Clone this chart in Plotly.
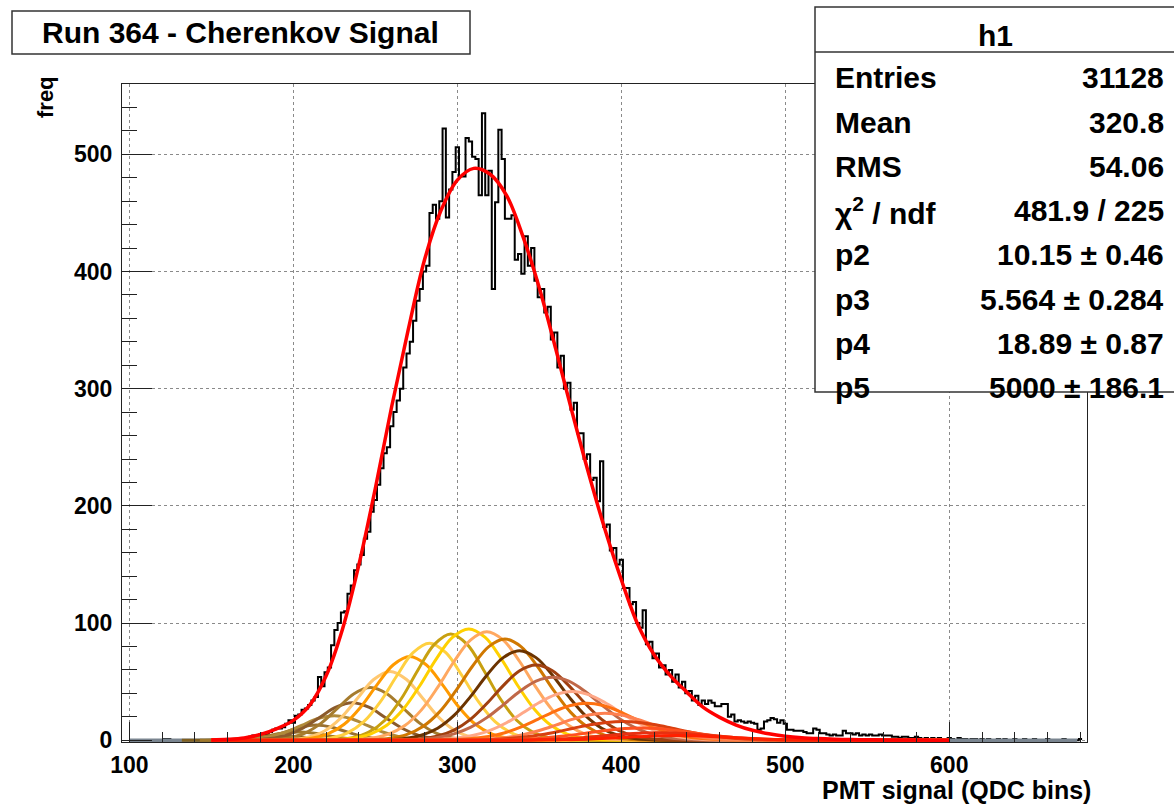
import plotly.graph_objects as go

# ---------------- data ----------------
bin_start = 101
bin_width = 2
hist_counts = [
    0, 0, 0, 0, 0, 0, 0, 0, 0, 0,
    1, 1, 0, 0, 0, 0, 0, 0, 0, 0,
    0, 0, 0, 0, 0, 0, 0, 0, 0, 0,
    0, 1, 0, 1, 0, 2, 3, 4, 4, 5,
    6, 5, 7, 9, 10, 10, 11, 14, 17, 15,
    21, 22, 26, 27, 30, 34, 37, 54, 46, 58,
    62, 81, 94, 100, 109, 110, 125, 132, 145, 150,
    158, 172, 178, 195, 205, 218, 232, 245, 250, 268,
    280, 290, 300, 318, 330, 340, 358, 375, 385, 400,
    405, 450, 457, 445, 460, 522, 446, 470, 485, 506,
    481, 481, 514, 511, 498, 496, 465, 535, 465, 486,
    385, 459, 521, 496, 445, 445, 448, 410, 415, 398,
    430, 405, 420, 392, 378, 385, 365, 370, 342, 348,
    318, 328, 300, 305, 282, 288, 262, 262, 240, 244,
    222, 224, 204, 238, 182, 184, 162, 164, 150, 154,
    130, 130, 116, 118, 100, 96, 111, 82, 84, 70,
    74, 62, 64, 56, 60, 50, 56, 45, 50, 40,
    42, 34, 38, 30, 34, 31, 34, 32, 29, 29,
    31, 31, 20, 22, 16, 17, 16, 15, 16, 15,
    14, 9, 10, 16, 17, 19, 18, 15, 17, 14,
    9, 9, 8, 8, 8, 7, 6, 6, 10, 9,
    6, 6, 5, 4, 5, 4, 4, 8, 6, 6,
    5, 6, 4, 5, 4, 5, 4, 4, 5, 4,
    4, 4, 3, 3, 2, 3, 3, 2, 2, 3,
    2, 1, 2, 1, 2, 1, 2, 1, 1, 2,
    1, 0, 2, 1, 1, 0, 1, 1, 0, 1,
    0, 1, 0, 0, 1, 0, 1, 0, 0, 1,
    0, 0, 1, 0, 0, 1, 0, 0, 0, 1,
    0, 0, 0, 0, 1, 0, 0, 0, 0, 1,
]

fit_x = [150, 160, 170, 180, 190, 200, 210, 220, 230, 240, 250, 260, 270, 280, 290,
         300, 310, 320, 330, 340, 350, 360, 370, 380, 390, 400, 410, 420, 430, 440,
         450, 460, 470, 480, 490, 500, 510, 520, 530, 540, 550, 560, 570, 580, 590, 600]
fit_y = [0.3, 0.8, 2, 5, 10, 17, 30, 55, 95, 150, 215, 285, 350, 410, 452,
         478, 488, 483, 465, 430, 386, 334, 280, 228, 180, 137, 99, 73, 55, 41,
         28, 19.5, 13, 8.5, 5.5, 3.5, 2.2, 1.4, 0.9, 0.6, 0.4, 0.3, 0.2, 0.15, 0.1, 0.08]

# component gaussians: centre and values sampled every 10 QDC units around it
comp_step = 10
comp_centers = [192, 203, 214, 225, 236, 247, 259, 271, 283, 296, 307, 318,
                329, 338, 348, 358, 370, 379, 390, 401, 412, 423, 434]
comp_values = [
    [0.01, 0.05, 0.22, 0.74, 1.75, 2.94, 3.5, 2.94, 1.75, 0.74, 0.22, 0.05, 0.01],
    [0.01, 0.09, 0.44, 1.48, 3.51, 5.89, 7, 5.89, 3.51, 1.48, 0.44, 0.09, 0.01],
    [0.03, 0.17, 0.82, 2.74, 6.5, 10.9, 13, 10.9, 6.5, 2.74, 0.82, 0.17, 0.03],
    [0.05, 0.23, 0.92, 2.84, 6.8, 12.7, 18.5, 21, 18.5, 12.7, 6.8, 2.84, 0.92, 0.23, 0.05],
    [0.07, 0.36, 1.4, 4.33, 10.4, 19.4, 28.2, 32, 28.2, 19.4, 10.4, 4.33, 1.4, 0.36, 0.07],
    [0.1, 0.5, 1.98, 6.1, 14.6, 27.3, 39.7, 45, 39.7, 27.3, 14.6, 6.1, 1.98, 0.5, 0.1],
    [0.13, 0.65, 2.58, 7.9, 19.1, 35.6, 51.8, 58.7, 51.8, 35.6, 19.1, 7.9, 2.58, 0.65, 0.13],
    [0.45, 1.73, 5.4, 13.6, 28.2, 47.3, 64.4, 71.4, 64.4, 47.3, 28.2, 13.6, 5.4, 1.73, 0.45],
    [0.52, 2.0, 6.3, 15.8, 32.7, 54.8, 74.7, 82.8, 74.7, 54.8, 32.7, 15.8, 6.3, 2.0, 0.52],
    [0.57, 2.2, 6.9, 17.3, 35.8, 60.0, 81.8, 90.7, 81.8, 60.0, 35.8, 17.3, 6.9, 2.2, 0.57],
    [0.57, 1.9, 5.3, 12.8, 26.4, 46.3, 69.0, 87.7, 95, 87.7, 69.0, 46.3, 26.4, 12.8, 5.3, 1.9, 0.57],
    [0.56, 1.85, 5.2, 12.5, 25.7, 45.1, 67.2, 85.5, 92.6, 85.5, 67.2, 45.1, 25.7, 12.5, 5.2, 1.85, 0.56],
    [0.52, 1.73, 4.8, 11.7, 24.0, 42.1, 62.7, 79.7, 86.4, 79.7, 62.7, 42.1, 24.0, 11.7, 4.8, 1.73, 0.52],
    [0.46, 1.53, 4.3, 10.3, 21.2, 37.2, 55.5, 70.5, 76.4, 70.5, 55.5, 37.2, 21.2, 10.3, 4.3, 1.53, 0.46],
    [0.39, 1.28, 3.6, 8.7, 17.8, 31.3, 46.6, 59.3, 64.2, 59.3, 46.6, 31.3, 17.8, 8.7, 3.6, 1.28, 0.39],
    [0.31, 0.91, 2.36, 5.4, 10.9, 19.3, 30.2, 41.6, 50.4, 53.7, 50.4, 41.6, 30.2, 19.3, 10.9, 5.4, 2.36, 0.91, 0.31],
    [0.24, 0.7, 1.82, 4.2, 8.4, 14.9, 23.4, 32.2, 38.9, 41.5, 38.9, 32.2, 23.4, 14.9, 8.4, 4.2, 1.82, 0.7, 0.24],
    [0.18, 0.53, 1.39, 3.2, 6.4, 11.4, 17.8, 24.5, 29.6, 31.6, 29.6, 24.5, 17.8, 11.4, 6.4, 3.2, 1.39, 0.53, 0.18],
    [0.13, 0.39, 1.0, 2.3, 4.7, 8.3, 12.9, 17.8, 21.6, 23, 21.6, 17.8, 12.9, 8.3, 4.7, 2.3, 1.0, 0.39, 0.13],
    [0.12, 0.31, 0.7, 1.46, 2.75, 4.7, 7.3, 10.3, 13.2, 15.2, 16, 15.2, 13.2, 10.3, 7.3, 4.7, 2.75, 1.46, 0.7, 0.31, 0.12],
    [0.08, 0.2, 0.46, 0.96, 1.8, 3.1, 4.8, 6.8, 8.6, 10.0, 10.5, 10.0, 8.6, 6.8, 4.8, 3.1, 1.8, 0.96, 0.46, 0.2, 0.08],
    [0.05, 0.12, 0.29, 0.59, 1.12, 1.9, 3.0, 4.2, 5.3, 6.2, 6.5, 6.2, 5.3, 4.2, 3.0, 1.9, 1.12, 0.59, 0.29, 0.12, 0.05],
    [0.03, 0.08, 0.18, 0.37, 0.69, 1.18, 1.83, 2.6, 3.3, 3.8, 4, 3.8, 3.3, 2.6, 1.83, 1.18, 0.69, 0.37, 0.18, 0.08, 0.03],
]
comp_colors = ["#806020", "#a0782a", "#9a7030", "#b08a3a", "#8b5a2b", "#a67c2e",
               "#ffc870", "#ff9a00", "#ffd040", "#c8a010", "#ffd000", "#ffa860",
               "#d07800", "#6b3300", "#a04010", "#c06848", "#ffa888", "#ff7010",
               "#ff8050", "#d84010", "#ff5020", "#e83010", "#ff2000"]
comp_range = [150, 600]

baseline_x = [100, 678]
baseline_y = [0, 0]

stats_labels = ["Entries", "Mean", "RMS", "\u03c7<sup>2</sup> / ndf", "p2", "p3", "p4", "p5"]
stats_values = ["31128", "320.8", "54.06", "481.9 / 225", "10.15 \u00b1 0.46",
                "5.564 \u00b1 0.284", "18.89 \u00b1 0.87", "5000 \u00b1 186.1"]

# ---------------- figure ----------------
W, H = 1174, 807
L, R, T, B = 122, 1087, 84, 742

def px(x):
    return (x - L) / (R - L)

def py(y):
    return (B - y) / (B - T)

FONT = "Liberation Sans"
fig = go.Figure()

edges = [bin_start + bin_width * i for i in range(len(hist_counts) + 1)]
fig.add_trace(go.Scatter(x=edges, y=hist_counts + [hist_counts[-1]], mode="lines",
                         line=dict(shape="hv", color="black", width=2),
                         hoverinfo="skip", showlegend=False))

fig.add_trace(go.Scatter(x=baseline_x, y=baseline_y, mode="lines",
                         line=dict(color="#7a8590", width=3.5),
                         hoverinfo="skip", showlegend=False))

for c, vals, col in zip(comp_centers, comp_values, comp_colors):
    half = (len(vals) - 1) // 2
    xs = [comp_range[0]] + [c + comp_step * (i - half) for i in range(len(vals))] + [comp_range[1]]
    ys = [0] + vals + [0]
    fig.add_trace(go.Scatter(x=xs, y=ys, mode="lines",
                             line=dict(color=col, width=3, shape="spline", smoothing=1.0),
                             hoverinfo="skip", showlegend=False))

fig.add_trace(go.Scatter(x=fit_x, y=fit_y, mode="lines",
                         line=dict(color="#ff0000", width=3.5, shape="spline", smoothing=1.0),
                         hoverinfo="skip", showlegend=False))

axis_common = dict(showline=True, linecolor="#222222", linewidth=1, mirror=True,
                   ticks="inside", tickcolor="#222222", tickwidth=1,
                   showgrid=True, gridcolor="#8a8a8a", griddash="dot", gridwidth=1,
                   zeroline=False,
                   tickfont=dict(family=FONT, size=23, color="black", weight="bold"))

fig.update_xaxes(range=[95.5, 684], tickmode="array", tickvals=[100, 200, 300, 400, 500, 600],
                 ticklen=20, ticklabelstandoff=2,
                 minor=dict(dtick=20, tick0=100, ticklen=10, ticks="inside", tickcolor="#222222",
                            showgrid=False),
                 **axis_common)
fig.update_yaxes(range=[-1.5, 560], tickmode="array", tickvals=[0, 100, 200, 300, 400, 500],
                 ticklen=30, ticklabelstandoff=4,
                 minor=dict(dtick=20, tick0=0, ticklen=15, ticks="inside", tickcolor="#222222",
                            showgrid=False),
                 **axis_common)

shapes = []
annotations = []
# title box
shapes.append(dict(type="rect", xref="paper", yref="paper",
                   x0=px(12), x1=px(470), y0=py(54), y1=py(11),
                   line=dict(color="#333333", width=1.5), fillcolor="white", layer="above"))
annotations.append(dict(xref="paper", yref="paper", x=px(240), y=py(32), text="Run 364 - Cherenkov Signal",
                        showarrow=False, xanchor="center", yanchor="middle",
                        font=dict(family=FONT, size=30, color="black", weight="bold")))
# stats box
shapes.append(dict(type="rect", xref="paper", yref="paper",
                   x0=px(815), x1=px(1180), y0=py(392), y1=py(7),
                   line=dict(color="#333333", width=1.5), fillcolor="white", layer="above"))
shapes.append(dict(type="line", xref="paper", yref="paper",
                   x0=px(815), x1=px(1180), y0=py(52), y1=py(52),
                   line=dict(color="#333333", width=1.5), layer="above"))
annotations.append(dict(xref="paper", yref="paper", x=px(995), y=py(36), text="h1",
                        showarrow=False, xanchor="center", yanchor="middle",
                        font=dict(family=FONT, size=30, color="black", weight="bold")))
row_y0, row_dy = 78, 44.2
for i, (lab, val) in enumerate(zip(stats_labels, stats_values)):
    yy = row_y0 + row_dy * i
    annotations.append(dict(xref="paper", yref="paper", x=px(833), y=py(yy), text=lab,
                            showarrow=False, xanchor="left", yanchor="middle",
                            font=dict(family=FONT, size=30, color="black", weight="bold")))
    annotations.append(dict(xref="paper", yref="paper", x=px(1166), y=py(yy), text=val,
                            showarrow=False, xanchor="right", yanchor="middle",
                            font=dict(family=FONT, size=30, color="black", weight="bold")))
# axis titles
annotations.append(dict(xref="paper", yref="paper", x=px(1093), y=py(790), text="PMT signal (QDC bins)",
                        showarrow=False, xanchor="right", yanchor="middle",
                        font=dict(family=FONT, size=25, color="black", weight="bold")))
annotations.append(dict(xref="paper", yref="paper", x=px(45), y=py(74), text="freq",
                        showarrow=False, xanchor="center", yanchor="top", textangle=-90,
                        font=dict(family=FONT, size=22, color="black", weight="bold")))

fig.update_layout(width=W, height=H, margin=dict(l=L, r=W - R, t=T, b=H - B),
                  paper_bgcolor="white", plot_bgcolor="white",
                  shapes=shapes, annotations=annotations, showlegend=False)

fig.write_html("out.html")
